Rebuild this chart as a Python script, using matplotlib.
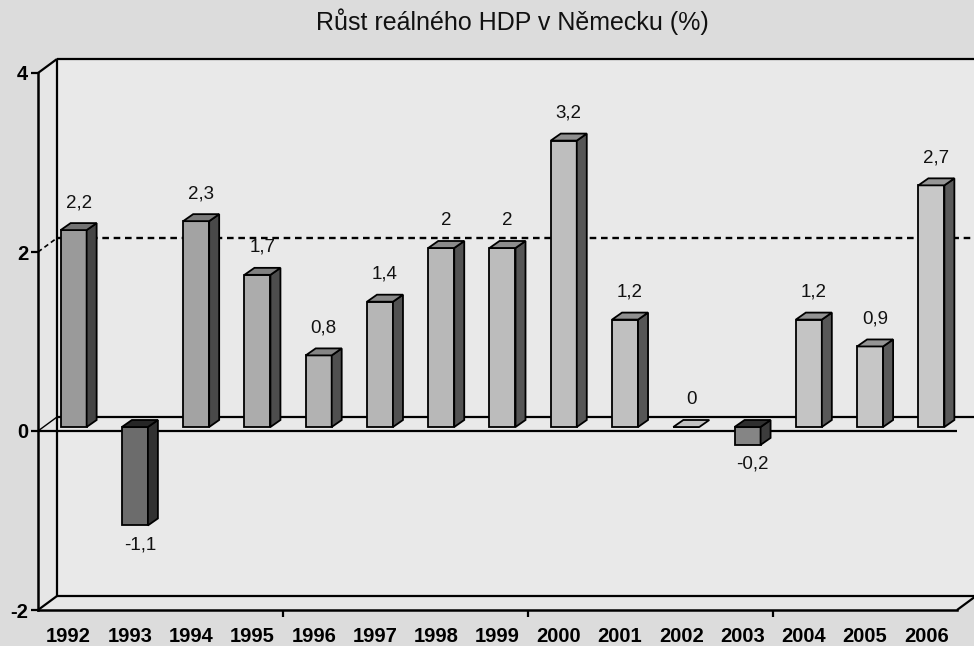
import matplotlib
matplotlib.use("Agg")
import matplotlib.pyplot as plt
from matplotlib.patches import Polygon, Rectangle

# ---------------- data ----------------
years = ["1992", "1993", "1994", "1995", "1996", "1997", "1998", "1999",
         "2000", "2001", "2002", "2003", "2004", "2005", "2006"]
growth = [2.2, -1.1, 2.3, 1.7, 0.8, 1.4, 2.0, 2.0, 3.2, 1.2, 0.0, -0.2, 1.2, 0.9, 2.7]
value_labels = ["2,2", "-1,1", "2,3", "1,7", "0,8", "1,4", "2", "2",
                "3,2", "1,2", "0", "-0,2", "1,2", "0,9", "2,7"]
y_ticks = [-2, 0, 2, 4]
title = "Růst reálného HDP v Německu (%)"

# ---------------- styles ----------------
face_colors = ["#9a9a9a", "#6c6c6c", "#a3a3a3", "#acacac", "#b2b2b2", "#b6b6b6",
               "#b8b8b8", "#bcbcbc", "#bebebe", "#c0c0c0", "#c2c2c2", "#858585",
               "#c4c4c4", "#c6c6c6", "#c8c8c8"]

W, H = 974, 646
fig = plt.figure(figsize=(W / 100, H / 100), dpi=100, facecolor="#dcdcdc")

# front plane axes: x from px 38 to 957, y from px 610 (-2) to 73 (4)
ax_l, ax_r, ax_b, ax_t = 38, 957, 610, 73
ax = fig.add_axes([ax_l / W, 1 - ax_b / H, (ax_r - ax_l) / W, (ax_b - ax_t) / H])
n = len(years)
ax.set_xlim(0, n)
ax.set_ylim(-2, 4)
ax.set_facecolor("none")

pxx = n / (ax_r - ax_l)        # data units per pixel (x)
pxy = 6.0 / (ax_b - ax_t)      # data units per pixel (y)

# wall depth offset
wdx, wdy = 19 * pxx, 14 * pxy
# bar front-plane offset and bar depth
bfx, bfy = 5 * pxx, 4 * pxy
bdx, bdy = 10 * pxx, 7 * pxy
bw = 26 * pxx

ln = dict(color="black", lw=1.6, clip_on=False, solid_capstyle="butt")

# back wall fill
ax.add_patch(Rectangle((wdx, -2 + wdy), n, 6, facecolor="#e9e9e9", edgecolor="none",
                       clip_on=False, zorder=0))
# side wall + floor fill
ax.add_patch(Polygon([(0, -2), (wdx, -2 + wdy), (wdx, 4 + wdy), (0, 4)],
                     closed=True, facecolor="#e6e6e6", edgecolor="none", clip_on=False, zorder=0))
ax.add_patch(Polygon([(0, -2), (n, -2), (n + wdx, -2 + wdy), (wdx, -2 + wdy)],
                     closed=True, facecolor="#e6e6e6", edgecolor="none", clip_on=False, zorder=0))

# wall frame lines
ax.plot([wdx, n + wdx], [4 + wdy, 4 + wdy], zorder=1, **ln)
ax.plot([wdx, wdx], [-2 + wdy, 4 + wdy], zorder=1, **ln)
ax.plot([wdx, n + wdx], [-2 + wdy, -2 + wdy], zorder=1, **ln)
ax.plot([0, wdx], [4, 4 + wdy], zorder=1, **ln)
ax.plot([0, wdx], [-2, -2 + wdy], zorder=1, **ln)
ax.plot([n, n + wdx], [-2, -2 + wdy], zorder=1, **ln)

# back gridline at 2 (dashed) and zero lines
ax.plot([wdx, n + wdx], [2 + wdy, 2 + wdy], color="black", lw=1.7, ls=(0, (2.8, 2.0)),
        clip_on=False, zorder=1)
ax.plot([0, wdx], [2, 2 + wdy], color="black", lw=1.2, ls=(0, (2.8, 2.0)), clip_on=False, zorder=1)
ax.plot([wdx, n + wdx], [wdy, wdy], zorder=1, **ln)
ax.plot([0, n], [0, 0], zorder=1, **ln)
ax.plot([0, wdx], [0, wdy], color="black", lw=1.0, clip_on=False, zorder=1)

# bars (front faces via ax.bar)
centers = [i + 0.5 + bfx for i in range(n)]
bottoms = [bfy + min(0, v) for v in growth]
heights = [abs(v) for v in growth]
bars = ax.bar(centers, heights, width=bw, bottom=bottoms, color=face_colors,
              edgecolor="black", linewidth=1.3, zorder=3)

def shade(hexcol, f):
    r, g, b = matplotlib.colors.to_rgb(hexcol)
    return (r * f, g * f, b * f)

for rect, v, col, lab in zip(bars, growth, face_colors, value_labels):
    x0 = rect.get_x()
    x1 = x0 + rect.get_width()
    yb = rect.get_y()
    yt = yb + rect.get_height()
    # side face
    if v != 0:
        ax.add_patch(Polygon([(x1, yb), (x1 + bdx, yb + bdy), (x1 + bdx, yt + bdy), (x1, yt)],
                             closed=True, facecolor=shade(col, 0.45), edgecolor="black",
                             lw=1.3, zorder=3))
    # top face
    topcol = shade(col, 0.35) if v < 0 else shade(col, 0.75)
    if v == 0:
        topcol = col
    ax.add_patch(Polygon([(x0, yt), (x0 + bdx, yt + bdy), (x1 + bdx, yt + bdy), (x1, yt)],
                         closed=True, facecolor=topcol, edgecolor="black", lw=1.3, zorder=3))
    xc = (x0 + x1 + bdx) / 2
    if v >= 0:
        ax.annotate(lab, (xc, yt + bdy), xytext=(0, 12), textcoords="offset pixels",
                    ha="center", va="bottom", fontsize=13.5, family="Liberation Sans",
                    color="#111111", zorder=5)
    else:
        ax.annotate(lab, (xc, yb), xytext=(0, -11), textcoords="offset pixels",
                    ha="center", va="top", fontsize=13.5, family="Liberation Sans",
                    color="#111111", zorder=5)

# axes styling
for s in ["top", "right"]:
    ax.spines[s].set_visible(False)
ax.spines["left"].set_linewidth(1.8)
ax.spines["bottom"].set_linewidth(1.8)
ax.set_yticks(y_ticks)
ax.set_yticklabels([str(t) for t in y_ticks], fontsize=14.5, fontweight="bold",
                   family="Liberation Sans")
ax.tick_params(axis="y", direction="out", length=5, width=1.6, pad=2)
ax.set_xticks([i + 0.5 for i in range(n)])
ax.set_xticklabels(years, fontsize=14.5, fontweight="bold", family="Liberation Sans")
ax.tick_params(axis="x", which="major", length=0, pad=12)
ax.set_xticks([4, 8, 12], minor=True)
ax.tick_params(axis="x", which="minor", direction="out", length=5, width=1.6)

fig.text(512 / W, 1 - 22 / H, title, ha="center", va="center", fontsize=18,
         family="Liberation Sans", color="#111111")

fig.savefig("out.png", dpi=100, facecolor=fig.get_facecolor())
